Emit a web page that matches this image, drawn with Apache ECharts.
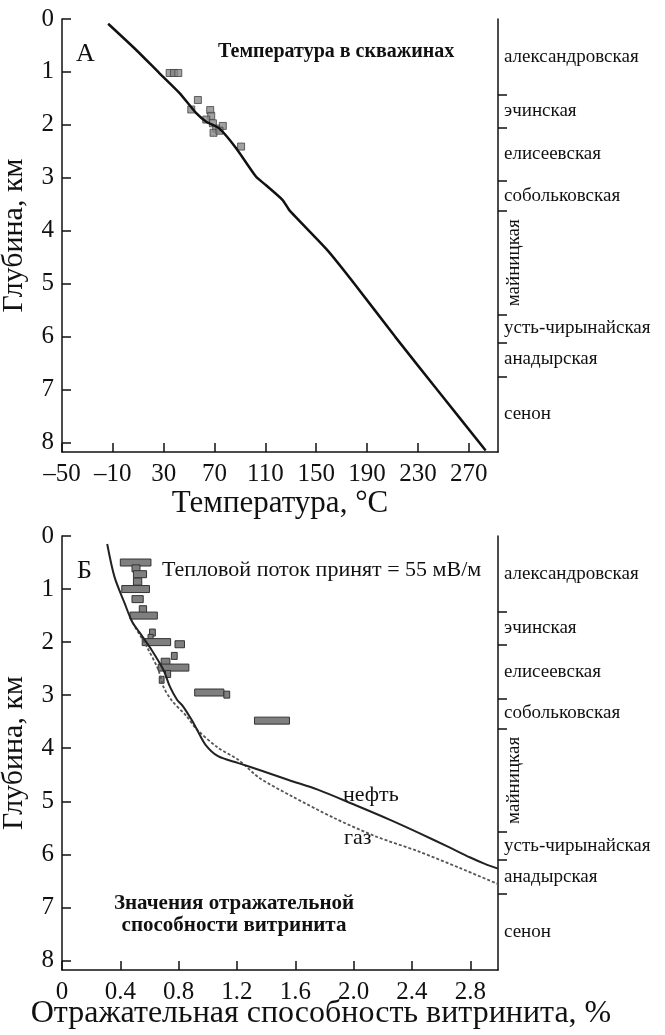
<!DOCTYPE html>
<html><head><meta charset="utf-8">
<script src="https://cdn.jsdelivr.net/npm/echarts@6/dist/echarts.min.js"></script>
<style>html,body{margin:0;padding:0;background:#fff}#c{width:665px;height:1035px}</style>
</head><body><div id="c"></div>
<script>
// ---- tick labels ----
const tempTicks = [-50, -10, 30, 70, 110, 150, 190, 230, 270];
const depthTicks = [0, 1, 2, 3, 4, 5, 6, 7, 8];
const roTicks = [0, 0.4, 0.8, 1.2, 1.6, 2.0, 2.4, 2.8];

// ---- panel A: modelled temperature profile ----
const modelTemp  = [-13.7, 8.6, 26.9, 42.5, 55.6, 63.5, 73.9, 87.0, 102.7, 110.5, 123.6, 128.8, 158.9, 180, 212, 245, 283.3];
const modelDepth = [0.09, 0.59, 1.03, 1.40, 1.78, 1.94, 2.07, 2.44, 2.98, 3.14, 3.42, 3.61, 4.37, 5.0, 6.0, 7.0, 8.15];
// measured well temperatures
const wellTemp  = [34.7, 38.1, 41.5, 56.9, 51.7, 66.6, 67.4, 63.5, 68.7, 71.3, 76.5, 69.2, 73.9, 90.9];
const wellDepth = [1.02, 1.02, 1.02, 1.53, 1.71, 1.72, 1.83, 1.90, 1.97, 2.07, 2.02, 2.15, 2.11, 2.41];

// ---- panel B: vitrinite reflectance ----
const oilRo    = [0.31, 0.36, 0.43, 0.48, 0.535, 0.615, 0.695, 0.74, 0.79, 0.83, 0.89, 0.926, 0.983, 1.07, 1.21, 1.354, 1.554, 1.754, 2.01, 2.25, 2.45, 2.65, 2.80, 2.90, 2.99];
const oilDepth = [0.15, 0.77, 1.27, 1.61, 1.83, 2.15, 2.52, 2.84, 3.09, 3.21, 3.47, 3.65, 3.93, 4.15, 4.28, 4.41, 4.60, 4.78, 5.07, 5.35, 5.60, 5.86, 6.06, 6.18, 6.27];
const gasRo    = [0.47, 0.50, 0.58, 0.66, 0.695, 0.75, 0.855, 0.926, 1.07, 1.21, 1.354, 1.58, 1.87, 2.15, 2.44, 2.73, 2.99];
const gasDepth = [1.55, 1.71, 2.08, 2.52, 2.84, 3.09, 3.40, 3.65, 3.99, 4.22, 4.56, 4.91, 5.32, 5.66, 5.94, 6.26, 6.56];
// measured reflectance ranges
const roMin   = [0.40, 0.48, 0.49, 0.49, 0.41, 0.48, 0.53, 0.466, 0.60, 0.59, 0.55, 0.775, 0.75, 0.68, 0.66, 0.71, 0.667, 0.91, 1.11, 1.32];
const roMax   = [0.61, 0.535, 0.58, 0.547, 0.60, 0.557, 0.58, 0.654, 0.64, 0.625, 0.745, 0.84, 0.79, 0.74, 0.87, 0.745, 0.70, 1.11, 1.15, 1.56];
const roDepth = [0.50, 0.61, 0.72, 0.86, 1.00, 1.19, 1.38, 1.50, 1.82, 1.92, 2.00, 2.04, 2.26, 2.37, 2.48, 2.60, 2.71, 2.95, 2.99, 3.48];

// ---- formations ----
const formationNames  = ['александровская', 'эчинская', 'елисеевская', 'собольковская', 'майницкая', 'усть-чирынайская', 'анадырская', 'сенон'];
const formationTop    = [0, 1.43, 2.05, 3.06, 3.63, 5.58, 6.11, 6.75];
const formationBottom = [1.43, 2.05, 3.06, 3.63, 5.58, 6.11, 6.75, 8.18];

const F = 'Liberation Serif';
const INK = '#111';
const DEPTH_MAX = 8.18, TEMP_MIN = -50, TEMP_MAX = 293, RO_MAX = 2.99;
const boundaries = formationTop.slice(1);

function depthAxis(gi) {
  return {
    gridIndex: gi, type: 'value', inverse: true, min: 0, max: DEPTH_MAX,
    axisLine: {show: true, onZero: false, lineStyle: {color: INK, width: 1.5}},
    axisTick: {inside: true, length: 9, customValues: depthTicks, lineStyle: {color: INK, width: 1.5}},
    axisLabel: {customValues: depthTicks, fontFamily: F, fontSize: 25, color: INK, margin: 8},
    splitLine: {show: false},
    name: 'Глубина, км', nameLocation: 'middle', nameGap: 33,
    nameTextStyle: {fontFamily: F, fontSize: 30, color: INK}
  };
}
function formationAxis(gi) {
  return {
    gridIndex: gi, type: 'value', inverse: true, min: 0, max: DEPTH_MAX, position: 'right',
    axisLine: {show: true, onZero: false, lineStyle: {color: INK, width: 1.5}},
    axisTick: {show: true, inside: false, length: 9, customValues: boundaries, lineStyle: {color: INK, width: 1.5}},
    axisLabel: {show: false}, splitLine: {show: false}
  };
}
function formationLabels(xi, yi, xval) {
  return {
    type: 'custom', xAxisIndex: xi, yAxisIndex: yi, clip: false, silent: true, z: 5,
    data: formationNames.map((n, i) => [xval, (formationTop[i] + formationBottom[i]) / 2, i]),
    renderItem: (params, api) => {
      const p = api.coord([api.value(0), api.value(1)]);
      const name = formationNames[api.value(2)];
      const vertical = name === 'майницкая';
      return {
        type: 'text', x: vertical ? p[0] + 16 : p[0] + 6, y: p[1],
        rotation: vertical ? Math.PI / 2 : 0,
        style: {text: name, fontFamily: F, fontSize: 19, fill: INK,
                align: vertical ? 'center' : 'left', verticalAlign: 'middle'}
      };
    }
  };
}

const option = {
  animation: false,
  backgroundColor: '#fff',
  grid: [
    {left: 62, top: 19, width: 436, height: 433, containLabel: false, outerBoundsMode: 'none'},
    {left: 62, top: 536, width: 436, height: 434, containLabel: false, outerBoundsMode: 'none'}
  ],
  xAxis: [
    {
      gridIndex: 0, type: 'value', min: TEMP_MIN, max: TEMP_MAX,
      axisLine: {onZero: false, lineStyle: {color: INK, width: 1.5}},
      axisTick: {inside: true, length: 9, customValues: tempTicks, lineStyle: {color: INK, width: 1.5}},
      axisLabel: {customValues: tempTicks, fontFamily: F, fontSize: 25, color: INK, margin: 10,
                  formatter: v => String(v).replace('-', '–')},
      splitLine: {show: false},
      name: 'Температура, °C', nameLocation: 'middle', nameGap: 26,
      nameTextStyle: {fontFamily: F, fontSize: 31, color: INK}
    },
    {
      gridIndex: 1, type: 'value', min: 0, max: RO_MAX,
      axisLine: {onZero: false, lineStyle: {color: INK, width: 1.5}},
      axisTick: {inside: true, length: 9, customValues: roTicks, lineStyle: {color: INK, width: 1.5}},
      axisLabel: {customValues: roTicks, fontFamily: F, fontSize: 25, color: INK, margin: 10,
                  formatter: v => v === 0 ? '0' : v.toFixed(1)},
      splitLine: {show: false}
    }
  ],
  yAxis: [depthAxis(0), formationAxis(0), depthAxis(1), formationAxis(1)],
  series: [
    {
      type: 'line', xAxisIndex: 0, yAxisIndex: 0, showSymbol: false, smooth: 0.2,
      data: modelTemp.map((t, i) => [t, modelDepth[i]]),
      lineStyle: {color: INK, width: 2.5}
    },
    {
      type: 'scatter', xAxisIndex: 0, yAxisIndex: 0, symbol: 'rect', symbolSize: 7,
      data: wellTemp.map((t, i) => [t, wellDepth[i]]),
      itemStyle: {color: '#8a8a8a', borderColor: '#444', borderWidth: 1}
    },
    formationLabels(0, 0, TEMP_MAX),
    {
      type: 'custom', xAxisIndex: 1, yAxisIndex: 2, z: 3,
      data: roMin.map((a, i) => [a, roMax[i], roDepth[i]]),
      encode: {x: [0, 1], y: 2},
      renderItem: (params, api) => {
        const a = api.coord([api.value(0), api.value(2)]);
        const b = api.coord([api.value(1), api.value(2)]);
        return {type: 'rect', shape: {x: a[0], y: a[1] - 3.5, width: b[0] - a[0], height: 7},
                style: {fill: '#7f7f7f', stroke: '#333', lineWidth: 1}};
      }
    },
    {
      type: 'line', xAxisIndex: 1, yAxisIndex: 2, showSymbol: false, smooth: 0.3, z: 4,
      data: gasRo.map((r, i) => [r, gasDepth[i]]),
      lineStyle: {color: '#555', width: 1.8, type: [3, 2]}
    },
    {
      type: 'line', xAxisIndex: 1, yAxisIndex: 2, showSymbol: false, smooth: 0.3, z: 4,
      data: oilRo.map((r, i) => [r, oilDepth[i]]),
      lineStyle: {color: '#222', width: 2}
    },
    formationLabels(1, 2, RO_MAX)
  ],
  graphic: [
    {type: 'text', x: 76, y: 54, style: {text: 'А', fontFamily: F, fontSize: 26, fill: INK, verticalAlign: 'middle'}},
    {type: 'text', x: 218, y: 52, style: {text: 'Температура в скважинах', fontFamily: F, fontSize: 20, fontWeight: 'bold', fill: INK, verticalAlign: 'middle'}},
    {type: 'text', x: 77, y: 571, style: {text: 'Б', fontFamily: F, fontSize: 26, fill: INK, verticalAlign: 'middle'}},
    {type: 'text', x: 162, y: 570, style: {text: 'Тепловой поток принят = 55 мВ/м', fontFamily: F, fontSize: 22, fill: INK, verticalAlign: 'middle'}},
    {type: 'text', x: 234, y: 915, style: {text: 'Значения отражательной\nспособности витринита', fontFamily: F, fontSize: 21, lineHeight: 22, fontWeight: 'bold', fill: INK, align: 'center', verticalAlign: 'middle'}},
    {type: 'text', x: 343, y: 795, style: {text: 'нефть', fontFamily: F, fontSize: 22, fill: INK, verticalAlign: 'middle'}},
    {type: 'text', x: 344, y: 838, style: {text: 'газ', fontFamily: F, fontSize: 22, fill: INK, verticalAlign: 'middle'}},
    {type: 'text', x: 321, y: 1014, style: {text: 'Отражательная способность витринита, %', fontFamily: F, fontSize: 32, fill: INK, align: 'center', verticalAlign: 'middle'}}
  ]
};
const chart = echarts.init(document.getElementById('c'), null, {renderer: 'canvas'});
chart.setOption(option);
</script>
</body></html>
